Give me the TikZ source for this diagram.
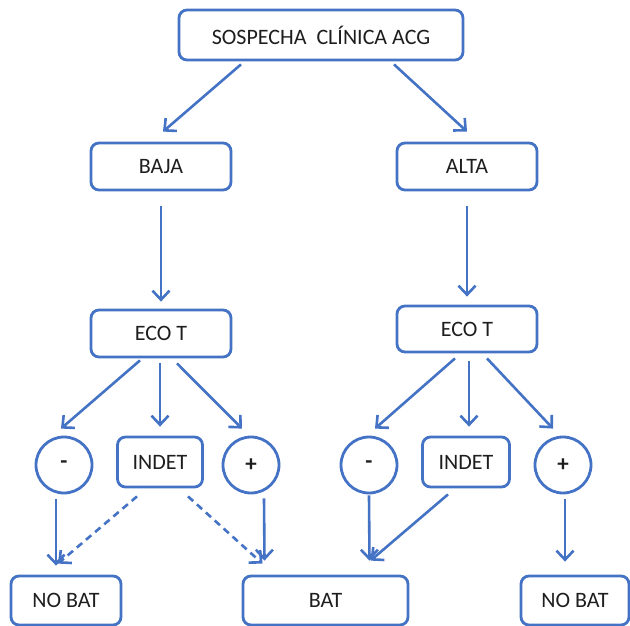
\documentclass[tikz,border=0pt]{standalone}
\usepackage{fontspec}
\setmainfont{Carlito}
\usetikzlibrary{arrows.meta}
\definecolor{obl}{RGB}{68,114,196}
\definecolor{txt}{RGB}{30,30,30}
\begin{document}
\begin{tikzpicture}[x=1pt,y=-1pt,
  box/.style={draw=obl,line width=2.8pt,rounded corners=8pt,inner sep=0pt,text=txt,font=\fontsize{22}{26}\selectfont},
  circ/.style={draw=obl,line width=2.8pt,circle,minimum size=56pt,inner sep=0pt,text=txt,font=\fontsize{23}{26}\selectfont\bfseries},
  arr/.style={draw=obl,line width=2.6pt,-{Straight Barb[length=9pt,width=17pt,line width=2.6pt]}},
  darr/.style={arr,dash pattern=on 7pt off 5pt}]
\useasboundingbox (0,0) rectangle (630,626);
\node[box,minimum width=284pt,minimum height=50pt] (top) at (321,35) {SOSPECHA\ \ CLÍNICA ACG};
\node[box,minimum width=140pt,minimum height=47pt] (baja) at (161,166.5) {BAJA};
\node[box,minimum width=140pt,minimum height=47pt] (alta) at (467,166.5) {ALTA};
\node[box,minimum width=140pt,minimum height=47pt] (ecol) at (161,333.5) {ECO T};
\node[box,minimum width=140pt,minimum height=46pt] (ecor) at (467,329) {ECO T};
\node[circ] (minl) at (64,465) {-};
\node[box,minimum width=85pt,minimum height=50pt] (indl) at (160,462) {INDET};
\node[circ] (plul) at (251,465) {+};
\node[circ] (minr) at (369,465) {-};
\node[box,minimum width=87pt,minimum height=50pt] (indr) at (466,462) {INDET};
\node[circ] (plur) at (563,465) {+};
\node[box,minimum width=110pt,minimum height=49pt] (nobl) at (66,600.5) {NO BAT};
\node[box,minimum width=165pt,minimum height=49pt] (bat) at (325.5,600.5) {BAT};
\node[box,minimum width=108pt,minimum height=49pt] (nobr) at (575,600.5) {NO BAT};
% top level
\draw[arr] ([xshift=-80pt,yshift=-3pt]top.south) -- ([xshift=2pt,yshift=10pt]baja.north);
\draw[arr] ([xshift=73pt,yshift=-3pt]top.south) -- ([yshift=10pt]alta.north);
\draw[arr] ([yshift=-15pt]baja.south) -- ([yshift=7pt]ecol.north);
\draw[arr] ([yshift=-15pt]alta.south) -- ([yshift=8pt]ecor.north);
% left eco
\draw[arr] ([xshift=-21pt,yshift=-2pt]ecol.south) -- ([xshift=-3pt,yshift=7pt]minl.north);
\draw[arr] ([xshift=-1pt,yshift=-5pt]ecol.south) -- ([yshift=9pt]indl.north);
\draw[arr] ([xshift=16pt,yshift=-5pt]ecol.south) -- ([xshift=-9pt,yshift=7pt]plul.north);
% right eco
\draw[arr] ([xshift=-12pt,yshift=-5pt]ecor.south) -- ([xshift=6pt,yshift=7pt]minr.north);
\draw[arr] ([xshift=2pt,yshift=-8pt]ecor.south) -- ([xshift=3pt,yshift=9pt]indr.north);
\draw[arr] ([xshift=20pt,yshift=-5pt]ecor.south) -- ([xshift=-10pt,yshift=7pt]plur.north);
% bottom left
\draw[arr] ([xshift=-8pt,yshift=-5pt]minl.south) -- ([xshift=-10pt,yshift=9pt]nobl.north);
\draw[darr] ([xshift=-23pt,yshift=-8pt]indl.south) -- ([xshift=-8pt,yshift=11pt]nobl.north);
\draw[darr] ([xshift=28pt,yshift=-8pt]indl.south) -- ([xshift=-63pt,yshift=11pt]bat.north);
\draw[arr] ([xshift=13pt,yshift=-4pt]plul.south) -- ([xshift=-61pt,yshift=14pt]bat.north);
% bottom right
\draw[arr] ([yshift=-1pt]minr.south) -- ([xshift=44pt,yshift=14pt]bat.north);
\draw[arr] ([xshift=-18pt,yshift=-6pt]indr.south) -- ([xshift=45pt,yshift=14pt]bat.north);
\draw[arr] ([xshift=2pt,yshift=-5pt]plur.south) -- ([xshift=-10pt,yshift=13pt]nobr.north);
\end{tikzpicture}
\end{document}
